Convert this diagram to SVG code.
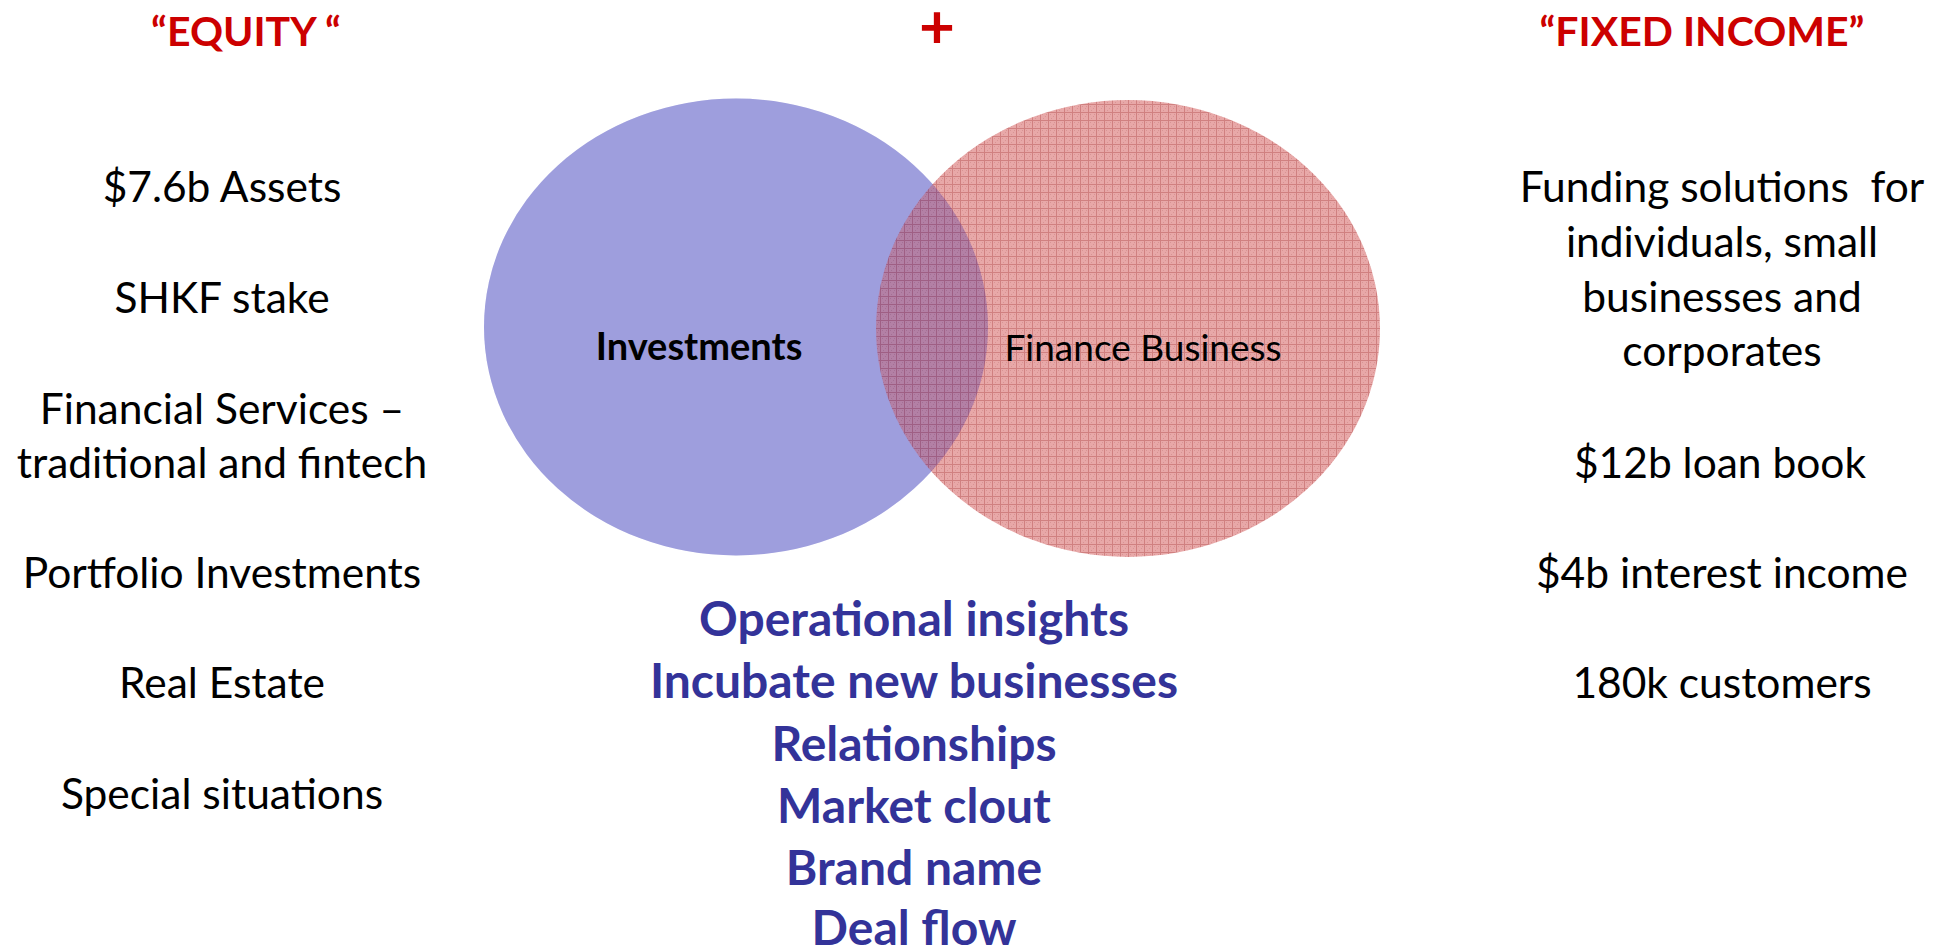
<svg xmlns="http://www.w3.org/2000/svg" width="1948" height="949" viewBox="0 0 1948 949">
  <style>
    .title { font-family: Lato, "Liberation Sans", sans-serif; font-weight: bold; font-size: 41px; fill: #CC0000; text-anchor: middle; }
    .item { font-family: Lato, "Liberation Sans", sans-serif; font-size: 42.5px; fill: #000000; text-anchor: middle; }
    .label-b { font-family: Lato, "Liberation Sans", sans-serif; font-weight: bold; font-size: 38px; fill: #000000; text-anchor: middle; }
    .label { font-family: Lato, "Liberation Sans", sans-serif; font-size: 37px; fill: #000000; text-anchor: middle; }
    .synergy { font-family: Lato, "Liberation Sans", sans-serif; font-weight: bold; font-size: 48px; fill: #333399; text-anchor: middle; }
  </style>
  <defs>
    <!-- fine red grid used to fill the finance circle -->
    <pattern id="redGrid" width="8" height="8" patternUnits="userSpaceOnUse">
      <rect width="8" height="8" fill="#D15151"/>
      <rect x="2" y="2" width="1" height="1" fill="#B02A2A"/>
      <rect x="5" y="4" width="1" height="1" fill="#B02A2A"/>
      <rect x="3" y="6" width="1" height="1" fill="#B02A2A"/>
      <rect x="6" y="2" width="1" height="1" fill="#B02A2A"/>
      <path d="M0 0.5H8M0.5 0V8" stroke="#A00000" stroke-width="1"/>
    </pattern>
  </defs>

  <rect width="1948" height="949" fill="#FFFFFF"/>

  <!-- column headings -->
  <g id="heading-equity"><text class="title" x="246" y="46">“EQUITY “</text></g>
  <g id="heading-plus"><text class="title" x="937" y="48" style="font-size:62px">+</text></g>
  <g id="heading-fixed-income"><text class="title" x="1702" y="46">“FIXED INCOME”</text></g>

  <!-- Venn circles -->
  <g id="node-investments">
    <ellipse cx="736" cy="327" rx="252" ry="228.5" fill="#9E9EDE"/>
  </g>
  <g id="node-finance">
    <ellipse cx="1128" cy="328.5" rx="252" ry="228.5" fill="url(#redGrid)" opacity="0.5"/>
  </g>
  <!-- faint blue wash keeps the overlap lens violet -->
  <ellipse cx="736" cy="327" rx="252" ry="228.5" fill="#9E9EDE" opacity="0.2"/>
  <g id="venn-labels">
    <text class="label-b" x="699" y="360">Investments</text>
    <text class="label" x="1143" y="361">Finance Business</text>
  </g>

  <!-- connectors: none drawn -->
  <g id="connectors"/>

  <!-- equity list -->
  <g id="equity-list">
    <text class="item" x="222" y="202">$7.6b Assets</text>
    <text class="item" x="222" y="313">SHKF stake</text>
    <text class="item" x="222" y="424">Financial Services –</text>
    <text class="item" x="222" y="478">traditional and fintech</text>
    <text class="item" x="222" y="588">Portfolio Investments</text>
    <text class="item" x="222" y="698">Real Estate</text>
    <text class="item" x="222" y="809">Special situations</text>
  </g>

  <!-- fixed income list -->
  <g id="fixed-income-list">
    <text class="item" x="1722" y="202" style="white-space:pre">Funding solutions  for</text>
    <text class="item" x="1722" y="257">individuals, small</text>
    <text class="item" x="1722" y="312">businesses and</text>
    <text class="item" x="1722" y="366">corporates</text>
    <text class="item" x="1720" y="478">$12b loan book</text>
    <text class="item" x="1722" y="588">$4b interest income</text>
    <text class="item" x="1722" y="698">180k customers</text>
  </g>

  <!-- shared strengths -->
  <g id="synergies">
    <text class="synergy" x="914" y="636">Operational insights</text>
    <text class="synergy" x="914" y="698">Incubate new businesses</text>
    <text class="synergy" x="914" y="761">Relationships</text>
    <text class="synergy" x="914" y="823">Market clout</text>
    <text class="synergy" x="914" y="885">Brand name</text>
    <text class="synergy" x="914" y="945">Deal flow</text>
  </g>
</svg>
